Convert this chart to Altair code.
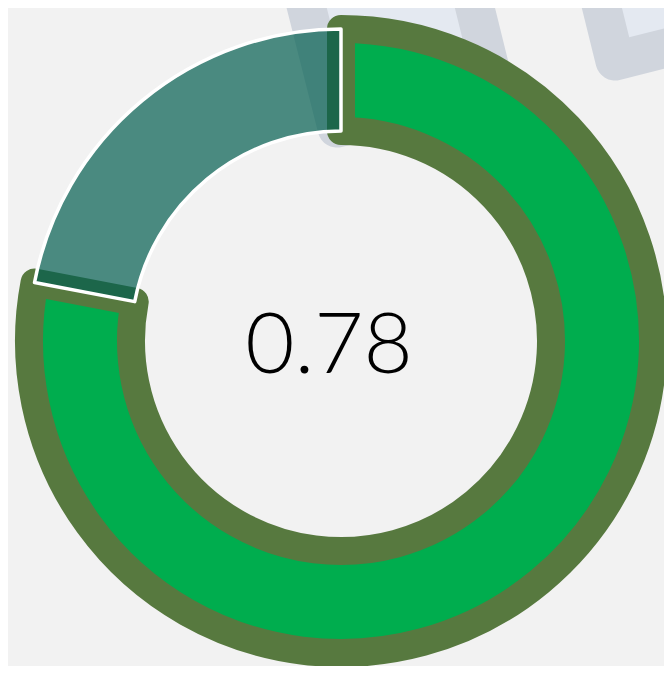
import altair as alt
import pandas as pd

# Donut data
categories = ["value", "rest"]
values = [0.78, 0.22]
label_text = "0.78"

# Decorative watermark outlines (chart pixel units)
wm_shape = ["a", "a", "a", "a", "a", "b", "b", "b", "b", "b"]
wm_idx = [0, 1, 2, 3, 4, 0, 1, 2, 3, 4]
wm_x = [280, 329, 487, 439, 280, 559, 607, 898, 850, 559]
wm_y = [-74, 120, 81, -113, -74, -141, 53, -20, -214, -141]

W, H = 656, 658
CX, CY = 333, 333

donut = pd.DataFrame({"cat": categories, "v": values, "idx": [0, 1]})
wm = pd.DataFrame({"shape": wm_shape, "i": wm_idx, "x": wm_x, "y": wm_y})
lab = pd.DataFrame({"t": [label_text]})

water = alt.Chart(wm).mark_line(
    clip=True, stroke="#d0d5dd", fill="#e4e9f1", strokeWidth=39, strokeJoin="round"
).encode(
    x=alt.X("x:Q", scale=alt.Scale(domain=[0, W], nice=False, zero=False), axis=None),
    y=alt.Y("y:Q", scale=alt.Scale(domain=[0, H], nice=False, zero=False, reverse=True), axis=None),
    detail="shape:N",
    order="i:Q",
)

arcs = alt.Chart(donut).mark_arc(
    radius=312, radius2=210, strokeJoin="round"
).encode(
    theta=alt.Theta("v:Q", stack=True, scale=alt.Scale(domain=[0, 1])),
    order=alt.Order("idx:Q"),
    fill=alt.Fill("cat:N", scale=alt.Scale(domain=categories, range=["#00ad4e", "#035e50"]), legend=None),
    stroke=alt.Stroke("cat:N", scale=alt.Scale(domain=categories, range=["#57793f", "#ffffff"]), legend=None),
    strokeWidth=alt.StrokeWidth("cat:N", scale=alt.Scale(domain=categories, range=[28, 3.5]), legend=None),
    fillOpacity=alt.FillOpacity("cat:N", scale=alt.Scale(domain=categories, range=[1.0, 0.7]), legend=None),
    x=alt.value(CX),
    y=alt.value(CY),
)

text = alt.Chart(lab).mark_text(
    font="Lato", fontWeight=300, fontSize=85, align="center", baseline="alphabetic", color="#000000"
).encode(
    text="t:N",
    x=alt.value(321),
    y=alt.value(365),
)

chart = alt.layer(water, arcs, text).properties(
    width=W, height=H, padding=0, autosize=alt.AutoSizeParams(type="none"), background="#f2f2f2"
).configure_view(stroke=None)

chart.save("out.html", embed_options={"renderer": "svg", "actions": False})
